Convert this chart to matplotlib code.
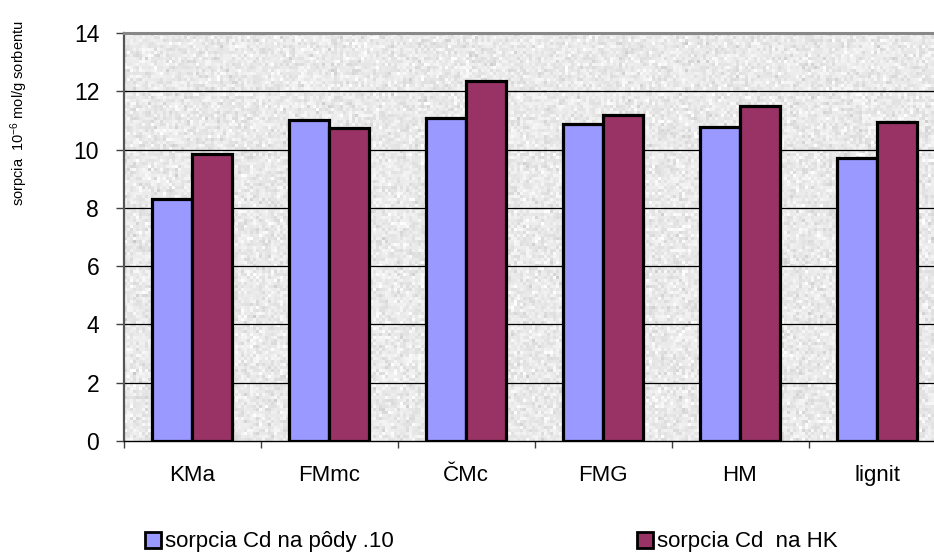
import numpy as np
import matplotlib
matplotlib.use("Agg")
import matplotlib.pyplot as plt

plt.rcParams['font.family'] = ['Liberation Sans', 'DejaVu Sans']
plt.rcParams['mathtext.fontset'] = 'custom'
plt.rcParams['mathtext.rm'] = 'Liberation Sans'
plt.rcParams['mathtext.default'] = 'regular'

categories = ["KMa", "FMmc", "ČMc", "FMG", "HM", "lignit"]
soil_values = [8.30, 11.00, 11.10, 10.88, 10.78, 9.72]
hk_values = [9.85, 10.75, 12.37, 11.18, 11.50, 10.95]
series_names = ["sorpcia Cd na pôdy .10", "sorpcia Cd  na HK"]
y_ticks = [0, 2, 4, 6, 8, 10, 12, 14]

W, H = 934, 556
fig = plt.figure(figsize=(W / 100, H / 100), dpi=100)
ax = fig.add_axes([123.5 / W, 115 / H, 822 / W, 408 / H])

n = len(categories)
ax.set_xlim(-0.5, n - 0.5)
ax.set_ylim(0, 14)

# granite-like plot area fill
rng = np.random.default_rng(11)
tex = rng.normal(0.0, 1.0, size=(136, 274))
tex = 0.915 + 0.035 * tex
tex = np.clip(tex, 0.78, 1.0)
ax.imshow(tex, cmap="gray", vmin=0, vmax=1, extent=(-0.5, n - 0.5, 0, 14),
          aspect="auto", interpolation="nearest", zorder=0)

for yv in y_ticks[1:-1]:
    ax.axhline(yv, color="black", lw=0.9, zorder=1)

x = np.arange(n)
bw = 0.29
b1 = ax.bar(x - bw / 2, soil_values, width=bw, color="#9999FF", edgecolor="black",
            linewidth=2.3, zorder=2, label=series_names[0])
b2 = ax.bar(x + bw / 2, hk_values, width=bw, color="#993366", edgecolor="black",
            linewidth=2.3, zorder=2, label=series_names[1])

ax.set_yticks(y_ticks)
ax.set_yticklabels([str(v) for v in y_ticks], fontsize=16.5)
ax.tick_params(axis="y", direction="out", length=6, width=1, color="#404040", pad=11.5)

ax.set_xticks(np.arange(-0.5, n, 1.0))
ax.set_xticklabels([])
ax.set_xticks(x, minor=True)
ax.set_xticklabels(categories, minor=True, fontsize=16)
ax.tick_params(axis="x", which="major", direction="out", length=5, width=1, color="#404040")
ax.tick_params(axis="x", which="minor", length=0, pad=17)

ax.spines["right"].set_visible(False)
ax.spines["top"].set_color("#888888")
ax.spines["top"].set_linewidth(2.2)
ax.spines["left"].set_color("#555555")
ax.spines["left"].set_linewidth(1.6)
ax.spines["bottom"].set_color("black")
ax.spines["bottom"].set_linewidth(1.0)

fig.text(19 / W, 1 - 113 / H, "sorpcia  10$^{-6}$ mol/g sorbentu", rotation=90,
         ha="center", va="center", fontsize=10.5)

legend_x = [145, 637]
for handle, name, lx in zip([b1, b2], series_names, legend_x):
    leg = fig.legend([handle], [name], loc="center left",
                     bbox_to_anchor=(lx / W, 1 - 542 / H), frameon=False,
                     fontsize=16, handlelength=0.7, handleheight=0.7,
                     handletextpad=0.2, borderaxespad=0, borderpad=0)
    for h in leg.legend_handles:
        h.set_linewidth(2.0)

fig.savefig("out.png", dpi=100)
